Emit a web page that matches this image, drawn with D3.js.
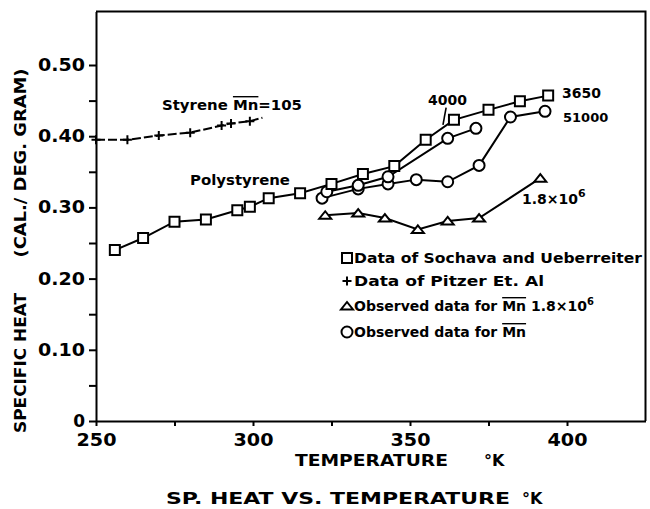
<!DOCTYPE html>
<html>
<head>
<meta charset="utf-8">
<script src="https://cdn.jsdelivr.net/npm/d3@7"></script>
<style>
  html, body { margin: 0; padding: 0; background: #fff; }
  svg { display: block; }
  text { font-family: "DejaVu Sans", sans-serif; font-weight: bold; fill: #000; }
</style>
</head>
<body>
<svg id="chart" width="650" height="509"></svg>
<script>
// ---------------- data ----------------
const xTicks = [250, 275, 300, 325, 350, 375, 400];
const xTickLabels = ["250", "", "300", "", "350", "", "400"];
const yTicks = [0, 0.05, 0.10, 0.15, 0.20, 0.25, 0.30, 0.35, 0.40, 0.45, 0.50];
const yTickLabels = ["0", "", "0.10", "", "0.20", "", "0.30", "", "0.40", "", "0.50"];

// Styrene Mn = 105 (Pitzer et al.), "+" markers
const pitzerT  = [250, 260, 270, 280, 290, 293, 299];
const pitzerCp = [0.395, 0.395, 0.401, 0.405, 0.415, 0.418, 0.421];
const pitzerTrailT = [299, 303];
const pitzerTrailCp = [0.421, 0.426];

// Polystyrene Mn 3650 (Sochava and Ueberreiter), squares
const sochavaT  = [256, 265, 275, 285, 295, 299, 305, 315, 325, 335, 345, 355, 364, 375, 385, 394];
const sochavaCp = [0.240, 0.257, 0.280, 0.283, 0.296, 0.301, 0.313, 0.320, 0.333, 0.347, 0.358, 0.395, 0.423, 0.437, 0.449, 0.457];

// Observed Mn 4000, circles
const obs4000T  = [323.5, 333.5, 343, 362, 371];
const obs4000Cp = [0.322, 0.331, 0.343, 0.397, 0.411];

// Observed Mn 51000, circles
const obs51000T  = [322, 333.5, 343, 352, 362, 372, 382, 393];
const obs51000Cp = [0.313, 0.326, 0.333, 0.339, 0.336, 0.359, 0.427, 0.435];

// Observed Mn 1.8x10^6, triangles
const obs18T  = [323, 333.5, 342, 352.5, 362, 372, 391.5];
const obs18Cp = [0.289, 0.292, 0.285, 0.269, 0.281, 0.285, 0.341];

const legendLabels = [
  "Data of Sochava and Ueberreiter",
  "Data of Pitzer Et. Al",
  "Observed data for ",
  "Observed data for "
];

// ---------------- drawing ----------------
const svg = d3.select("#chart");
const x = d3.scaleLinear().domain([250, 425]).range([96, 645.5]);
const y = d3.scaleLinear().domain([0, 0.575]).range([421, 11.6]);

const zip = (a, b) => a.map((v, i) => [v, b[i]]);
const line = d3.line().x(d => x(d[0])).y(d => y(d[1]));

// frame (top, right)
svg.append("path")
  .attr("d", `M${x(250)},${y(0.575)}H${x(425)}V${y(0)}`)
  .attr("fill", "none").attr("stroke", "#000").attr("stroke-width", 2);

// axes
const xAxis = d3.axisBottom(x).tickValues(xTicks)
  .tickFormat((d, i) => xTickLabels[i]).tickSize(5).tickSizeOuter(0).tickPadding(8);
const gx = svg.append("g").attr("transform", `translate(0,${y(0)})`).call(xAxis);
gx.select(".domain").attr("stroke-width", 2);
gx.selectAll(".tick line").attr("stroke-width", 2);
gx.selectAll("text").attr("font-size", 17).attr("font-family", "DejaVu Sans").attr("font-weight", "bold")
  .each(function () { if (this.textContent) d3.select(this).attr("textLength", 40).attr("lengthAdjust", "spacingAndGlyphs"); });

const yAxis = d3.axisLeft(y).tickValues(yTicks)
  .tickFormat((d, i) => yTickLabels[i]).tickSize(7).tickSizeOuter(0).tickPadding(4);
const gy = svg.append("g").attr("transform", `translate(${x(250)},0)`).call(yAxis);
gy.select(".domain").attr("stroke-width", 2);
gy.selectAll(".tick line").attr("stroke-width", 2);
gy.selectAll("text").attr("font-size", 17).attr("font-family", "DejaVu Sans").attr("font-weight", "bold")
  .each(function () { if (this.textContent.length > 1) d3.select(this).attr("textLength", 47).attr("lengthAdjust", "spacingAndGlyphs"); });

// lines
const lw = 2;
svg.append("path").attr("d", line(zip(pitzerT, pitzerCp)))
  .attr("fill", "none").attr("stroke", "#000").attr("stroke-width", lw).attr("stroke-dasharray", "9,3");
svg.append("path").attr("d", line(zip(pitzerTrailT, pitzerTrailCp)))
  .attr("fill", "none").attr("stroke", "#000").attr("stroke-width", lw).attr("stroke-dasharray", "9,3");
[[sochavaT, sochavaCp], [obs4000T, obs4000Cp], [obs51000T, obs51000Cp], [obs18T, obs18Cp]].forEach(([t, c]) => {
  svg.append("path").attr("d", line(zip(t, c)))
    .attr("fill", "none").attr("stroke", "#000").attr("stroke-width", lw);
});

// markers
const squarePath = d3.symbol(d3.symbolSquare, 100)();
const circlePath = "M5.5,0A5.5,5.5 0 1,1 -5.5,0A5.5,5.5 0 1,1 5.5,0Z";
const triPath = "M-6,3.5L6,3.5L0,-4Z";
const plusPath = "M-4.5,0H4.5M0,-4.5V4.5";

function markers(t, c, p, fill) {
  svg.append("g").selectAll("path").data(zip(t, c)).join("path")
    .attr("transform", d => `translate(${x(d[0])},${y(d[1])})`)
    .attr("d", p).attr("fill", fill).attr("stroke", "#000").attr("stroke-width", 2);
}
markers(pitzerT, pitzerCp, plusPath, "none");
markers(obs18T, obs18Cp, triPath, "#fff");
markers(obs51000T, obs51000Cp, circlePath, "#fff");
markers(obs4000T, obs4000Cp, circlePath, "#fff");
markers(sochavaT, sochavaCp, squarePath, "#fff");

// axis titles
svg.append("text").attr("transform", "translate(26,363) rotate(-90)")
  .attr("text-anchor", "middle").attr("font-size", 16)
  .attr("textLength", 140).attr("lengthAdjust", "spacingAndGlyphs").text("SPECIFIC HEAT");
svg.append("text").attr("transform", "translate(26,163) rotate(-90)")
  .attr("text-anchor", "middle").attr("font-size", 16)
  .attr("textLength", 189).attr("lengthAdjust", "spacingAndGlyphs").text("(CAL./ DEG. GRAM)");

svg.append("text").attr("x", 295).attr("y", 466).attr("font-size", 16)
  .attr("textLength", 153).attr("lengthAdjust", "spacingAndGlyphs").text("TEMPERATURE");
svg.append("text").attr("x", 484).attr("y", 466).attr("font-size", 16).text("°K");

svg.append("text").attr("x", 166).attr("y", 504).attr("font-size", 16)
  .attr("textLength", 344).attr("lengthAdjust", "spacingAndGlyphs").text("SP. HEAT  VS.  TEMPERATURE");
svg.append("text").attr("x", 522).attr("y", 504).attr("font-size", 16).text("°K");

// annotations
const styr = svg.append("text").attr("x", 162).attr("y", 110).attr("font-size", 14)
  .attr("textLength", 140).attr("lengthAdjust", "spacingAndGlyphs");
styr.append("tspan").text("Styrene ");
styr.append("tspan").style("text-decoration", "overline").text("Mn");
styr.append("tspan").text("=105");

svg.append("text").attr("x", 190).attr("y", 185).attr("font-size", 14)
  .attr("textLength", 100).attr("lengthAdjust", "spacingAndGlyphs").text("Polystyrene");
svg.append("text").attr("x", 428).attr("y", 105).attr("font-size", 14).text("4000");
svg.append("path").attr("d", `M${x(361.5)},${y(0.440)}L${x(360.5)},${y(0.416)}`)
  .attr("stroke", "#000").attr("stroke-width", 1.6);
svg.append("text").attr("x", 562).attr("y", 98).attr("font-size", 14).text("3650");
svg.append("text").attr("x", 563).attr("y", 122).attr("font-size", 13).text("51000");
const mw = svg.append("text").attr("x", 522).attr("y", 204).attr("font-size", 14);
mw.append("tspan").text("1.8×10");
mw.append("tspan").attr("dy", -7).attr("font-size", 11).text("6");

// legend
const legY = [258, 281, 306, 332];
const legShapes = [squarePath, plusPath, triPath, circlePath];
legShapes.forEach((p, i) => {
  svg.append("path").attr("transform", `translate(347,${legY[i]})`)
    .attr("d", p).attr("fill", i === 1 ? "none" : "#fff").attr("stroke", "#000").attr("stroke-width", 2);
});
svg.append("text").attr("x", 354).attr("y", legY[0] + 5).attr("font-size", 14)
  .attr("textLength", 288).attr("lengthAdjust", "spacingAndGlyphs").text(legendLabels[0]);
svg.append("text").attr("x", 354).attr("y", legY[1] + 5).attr("font-size", 14)
  .attr("textLength", 190).attr("lengthAdjust", "spacingAndGlyphs").text(legendLabels[1]);
const l3 = svg.append("text").attr("x", 354).attr("y", legY[2] + 5).attr("font-size", 14);
l3.append("tspan").text(legendLabels[2]);
l3.append("tspan").style("text-decoration", "overline").text("Mn");
l3.append("tspan").text(" 1.8×10");
l3.append("tspan").attr("dy", -6).attr("font-size", 10).text("6");
const l4 = svg.append("text").attr("x", 354).attr("y", legY[3] + 5).attr("font-size", 14);
l4.append("tspan").text(legendLabels[3]);
l4.append("tspan").style("text-decoration", "overline").text("Mn");
</script>
</body>
</html>
